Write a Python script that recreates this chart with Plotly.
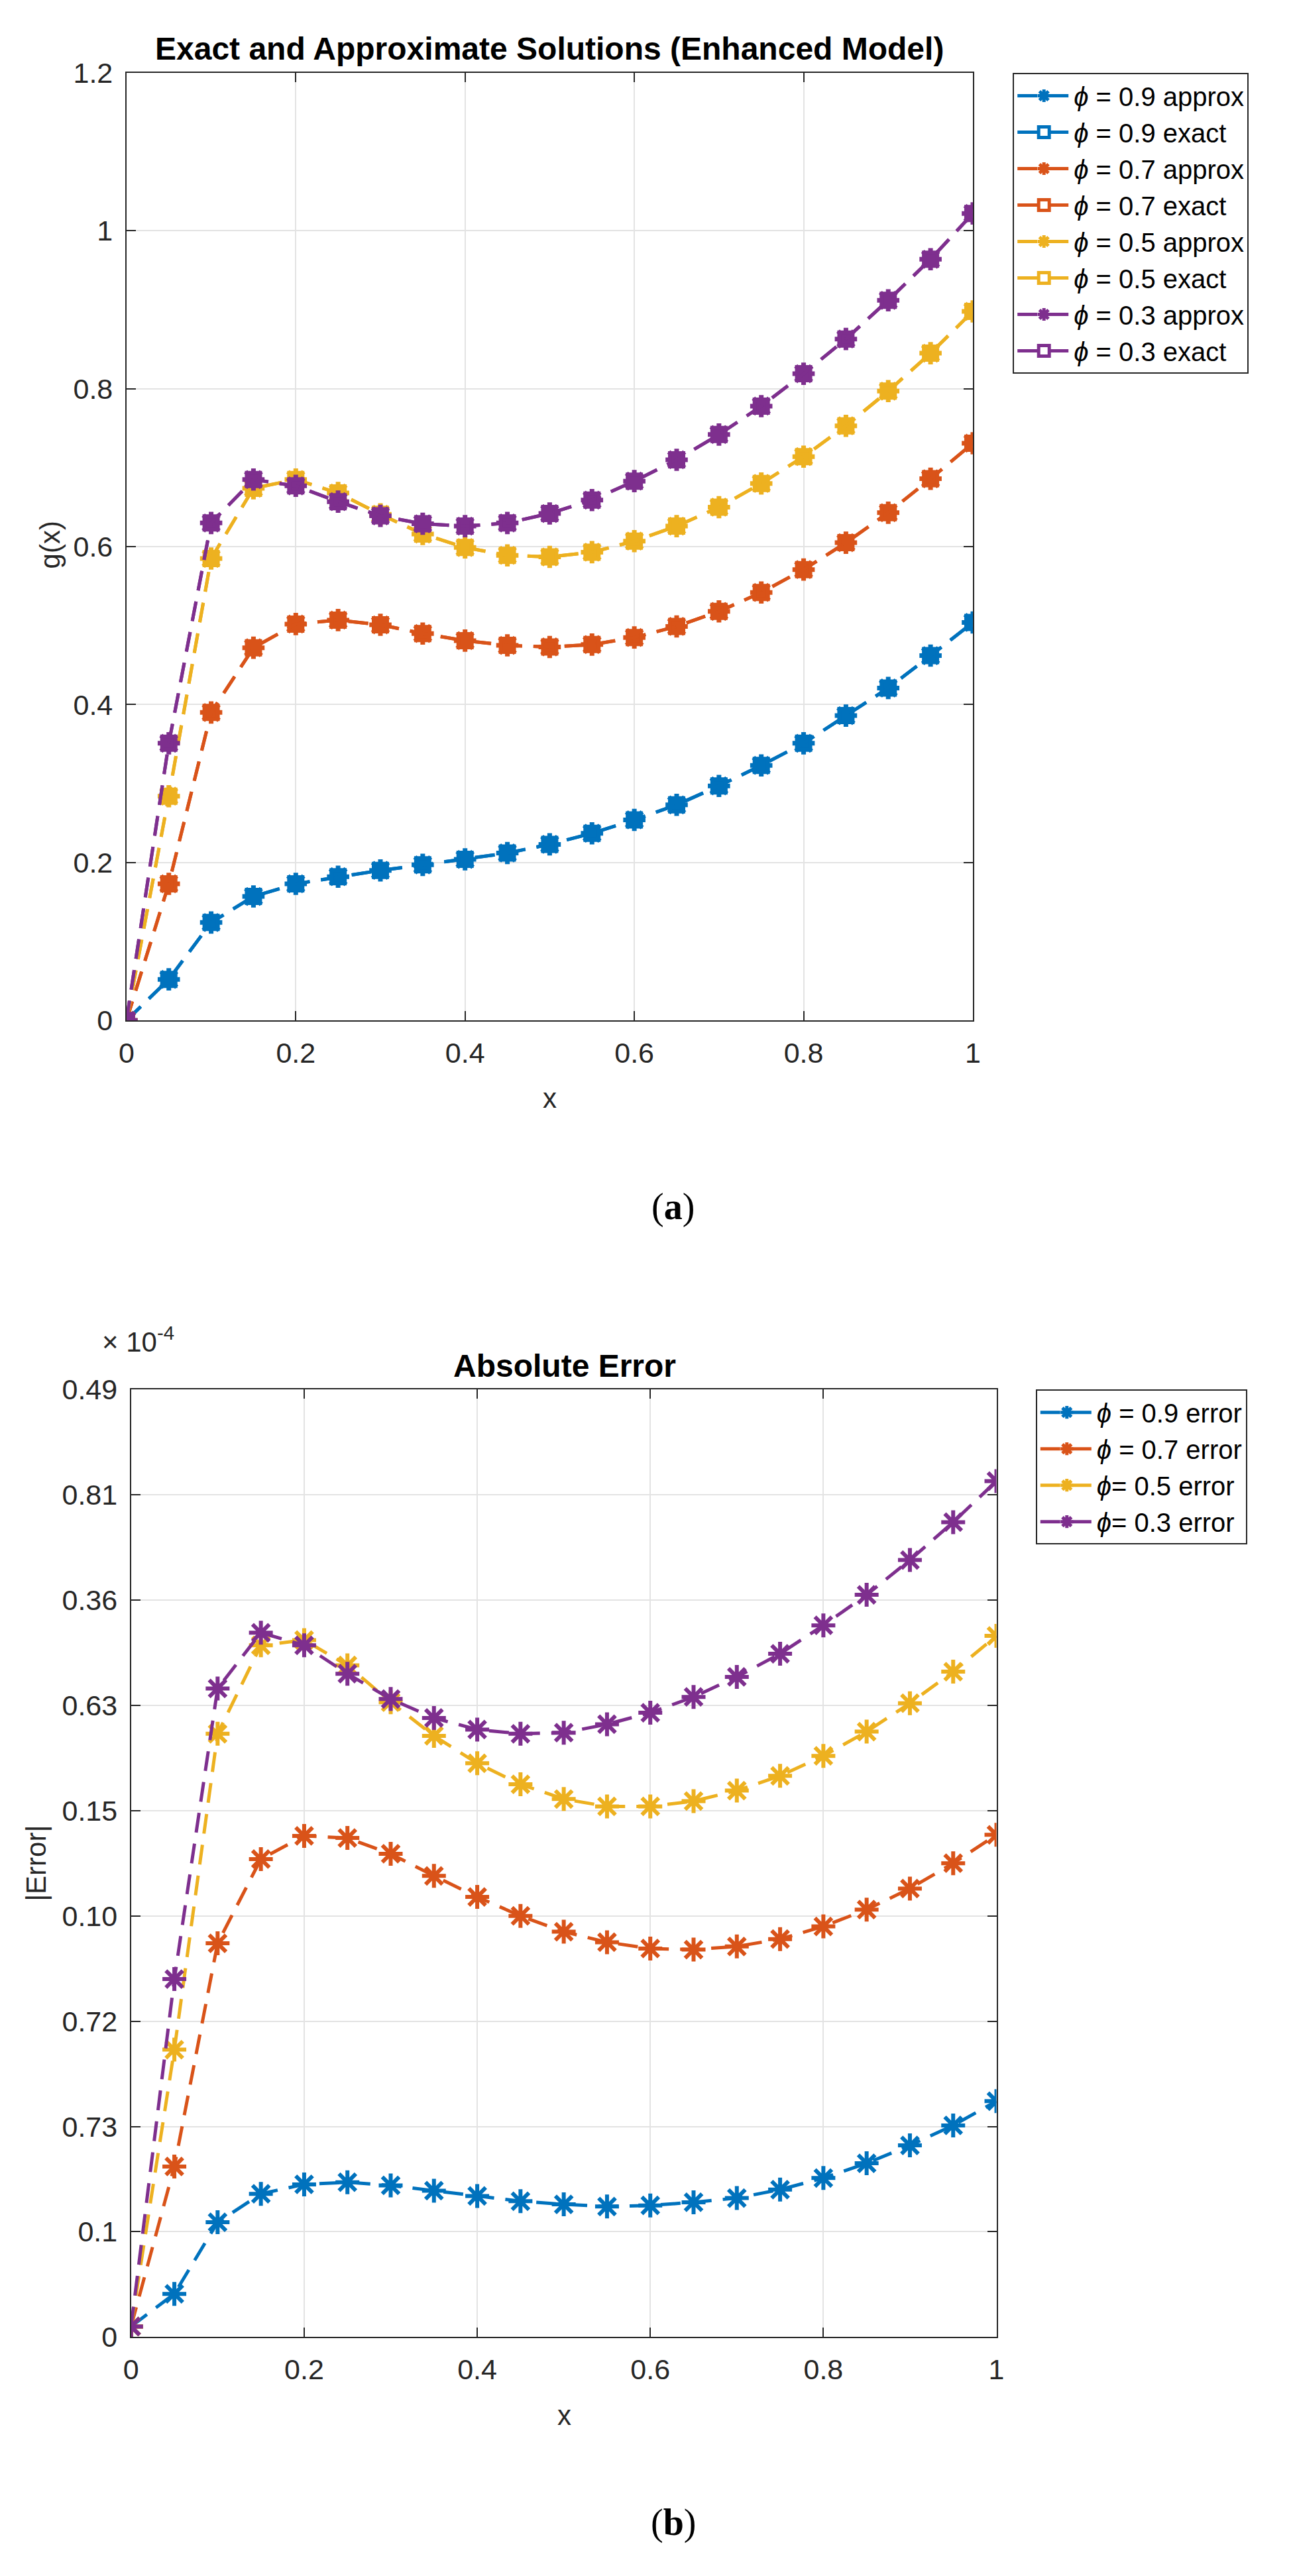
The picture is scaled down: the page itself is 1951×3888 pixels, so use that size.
import plotly.graph_objects as go

# x grid shared by both panels
x = [0, 0.05, 0.1, 0.15, 0.2, 0.25, 0.3, 0.35, 0.4, 0.45, 0.5,
     0.55, 0.6, 0.65, 0.7, 0.75, 0.8, 0.85, 0.9, 0.95, 1.0]

# (a) solutions g(x)
g_09 = [0, 0.052, 0.124, 0.157, 0.173, 0.182, 0.190, 0.197, 0.204, 0.212, 0.223,
        0.237, 0.254, 0.273, 0.297, 0.323, 0.351, 0.386, 0.421, 0.462, 0.504]
g_07 = [0, 0.173, 0.390, 0.472, 0.502, 0.507, 0.501, 0.490, 0.481, 0.475, 0.473,
        0.476, 0.485, 0.499, 0.518, 0.542, 0.571, 0.605, 0.643, 0.686, 0.731]
g_05 = [0, 0.284, 0.585, 0.674, 0.685, 0.668, 0.641, 0.616, 0.599, 0.589, 0.587,
        0.593, 0.607, 0.626, 0.650, 0.680, 0.714, 0.753, 0.797, 0.845, 0.898]
g_03 = [0, 0.351, 0.630, 0.685, 0.677, 0.657, 0.639, 0.629, 0.626, 0.630, 0.642,
        0.659, 0.683, 0.710, 0.742, 0.778, 0.819, 0.863, 0.912, 0.964, 1.022]

# (b) absolute error, in tick-slot units of the original axis
e_09 = [0.10, 0.41, 1.09, 1.36, 1.45, 1.47, 1.44, 1.39, 1.34, 1.29, 1.26,
        1.24, 1.25, 1.28, 1.32, 1.40, 1.51, 1.65, 1.82, 2.01, 2.24]
e_07 = [0.10, 1.62, 3.74, 4.54, 4.76, 4.74, 4.59, 4.38, 4.18, 4.00, 3.85,
        3.75, 3.69, 3.68, 3.71, 3.78, 3.90, 4.06, 4.26, 4.50, 4.77]
e_05 = [0.10, 2.73, 5.73, 6.57, 6.62, 6.38, 6.03, 5.71, 5.45, 5.25, 5.11,
        5.04, 5.04, 5.09, 5.19, 5.33, 5.52, 5.75, 6.02, 6.32, 6.66]
e_03 = [0.10, 3.40, 6.16, 6.69, 6.57, 6.30, 6.06, 5.88, 5.77, 5.73, 5.74,
        5.82, 5.93, 6.08, 6.27, 6.49, 6.76, 7.05, 7.38, 7.74, 8.13]

err_tickvals = [0, 1, 2, 3, 4, 5, 6, 7, 8, 9]
err_ticktext = ["0", "0.1", "0.73", "0.72", "0.10", "0.15", "0.63", "0.36", "0.81", "0.49"]

colors = ["#0072BD", "#D95319", "#EDB120", "#7E2F8E"]
phis = ["0.9", "0.7", "0.5", "0.3"]
err_names = ["<i>ϕ</i> = 0.9 error", "<i>ϕ</i> = 0.7 error",
             "<i>ϕ</i>= 0.5 error", "<i>ϕ</i>= 0.3 error"]

W, H = 1951, 3888
DASH = "30px,17px"
INK = "#262626"
FONT = "Liberation Sans, Arial, sans-serif"
SERIF = "Liberation Serif, DejaVu Serif, serif"

fig = go.Figure()

for g, c, p in zip([g_09, g_07, g_05, g_03], colors, phis):
    fig.add_trace(go.Scatter(
        x=x, y=g, mode="lines+markers", name=f"<i>ϕ</i> = {p} approx",
        line=dict(color=c, width=5, dash=DASH),
        marker=dict(symbol="asterisk-open", size=28, color=c, line=dict(width=7, color=c)),
        xaxis="x", yaxis="y", legend="legend"))
    fig.add_trace(go.Scatter(
        x=x, y=g, mode="lines+markers", name=f"<i>ϕ</i> = {p} exact",
        line=dict(color=c, width=5, dash=DASH),
        marker=dict(symbol="square-open", size=20, color=c, line=dict(width=6, color=c)),
        xaxis="x", yaxis="y", legend="legend"))

for e, c, n in zip([e_09, e_07, e_05, e_03], colors, err_names):
    fig.add_trace(go.Scatter(
        x=x, y=e, mode="lines+markers", name=n,
        line=dict(color=c, width=5, dash=DASH),
        marker=dict(symbol="asterisk-open", size=30, color=c, line=dict(width=6, color=c)),
        xaxis="x2", yaxis="y2", legend="legend2"))

axis_common = dict(
    showline=True, mirror="allticks", linecolor=INK, linewidth=2,
    ticks="inside", ticklen=14, tickwidth=2, tickcolor=INK,
    showgrid=True, gridcolor="#e3e3e3", gridwidth=2, zeroline=False,
    tickfont=dict(family=FONT, size=43, color=INK),
)

# panel boxes in pixels
a_l, a_r, a_t, a_b = 173, 1466, 79, 1527
b_l, b_r, b_t, b_b = 180, 1502, 2091, 3539

legend_common = dict(xanchor="left", yanchor="top", bordercolor=INK, borderwidth=2,
                     bgcolor="white", font=dict(family=FONT, size=40, color="black"),
                     itemwidth=80, tracegroupgap=0)

fig.update_layout(
    width=W, height=H,
    margin=dict(l=0, r=0, t=0, b=0),
    paper_bgcolor="white", plot_bgcolor="white",
    font=dict(family=FONT, color=INK),
    xaxis=dict(domain=[a_l / W, a_r / W], range=[0, 1], tickvals=[0, 0.2, 0.4, 0.6, 0.8, 1],
               anchor="y", ticklabelstandoff=10, **axis_common),
    yaxis=dict(domain=[1 - a_b / H, 1 - a_t / H], range=[0, 1.2],
               tickvals=[0, 0.2, 0.4, 0.6, 0.8, 1, 1.2], anchor="x",
               ticklabelstandoff=10, **axis_common),
    xaxis2=dict(domain=[b_l / W, b_r / W], range=[0, 1], tickvals=[0, 0.2, 0.4, 0.6, 0.8, 1],
                anchor="y2", ticklabelstandoff=10, **axis_common),
    yaxis2=dict(domain=[1 - b_b / H, 1 - b_t / H], range=[0, 9],
                tickvals=err_tickvals, ticktext=err_ticktext, anchor="x2",
                ticklabelstandoff=10, **axis_common),
    legend=dict(x=1527 / W, y=1 - 79 / H, **legend_common),
    legend2=dict(x=1562 / W, y=1 - 2091 / H, **legend_common),
    showlegend=True,
)

annotations = [
    dict(text="<b>Exact and Approximate Solutions (Enhanced Model)</b>", x=(a_l + a_r) / 2 / W,
         y=1 - 42 / H, font=dict(size=48, color="black")),
    dict(text="x", x=820 / W, y=1 - 1646 / H, font=dict(size=42, color=INK)),
    dict(text="g(x)", x=56 / W, y=1 - 800 / H, textangle=-90, font=dict(size=42, color=INK)),
    dict(text="(<b>a</b>)", x=1008 / W, y=1 - 1812 / H, font=dict(family=SERIF, size=56, color="black")),
    dict(text="<b>Absolute Error</b>", x=842 / W, y=1 - 2055 / H, font=dict(size=48, color="black")),
    dict(text="× 10<sup>-4</sup>", x=134 / W, y=1 - 2015 / H, xanchor="left",
         font=dict(size=42, color=INK)),
    dict(text="x", x=842 / W, y=1 - 3659 / H, font=dict(size=42, color=INK)),
    dict(text="|Error|", x=35 / W, y=1 - 2815 / H, textangle=-90, font=dict(size=42, color=INK)),
    dict(text="(<b>b</b>)", x=1008 / W, y=1 - 3823 / H, font=dict(family=SERIF, size=56, color="black")),
]
for a in annotations:
    a.setdefault("xanchor", "center")
    fig.add_annotation(xref="paper", yref="paper", showarrow=False, yanchor="middle", **a)

fig.write_html("out.html")
